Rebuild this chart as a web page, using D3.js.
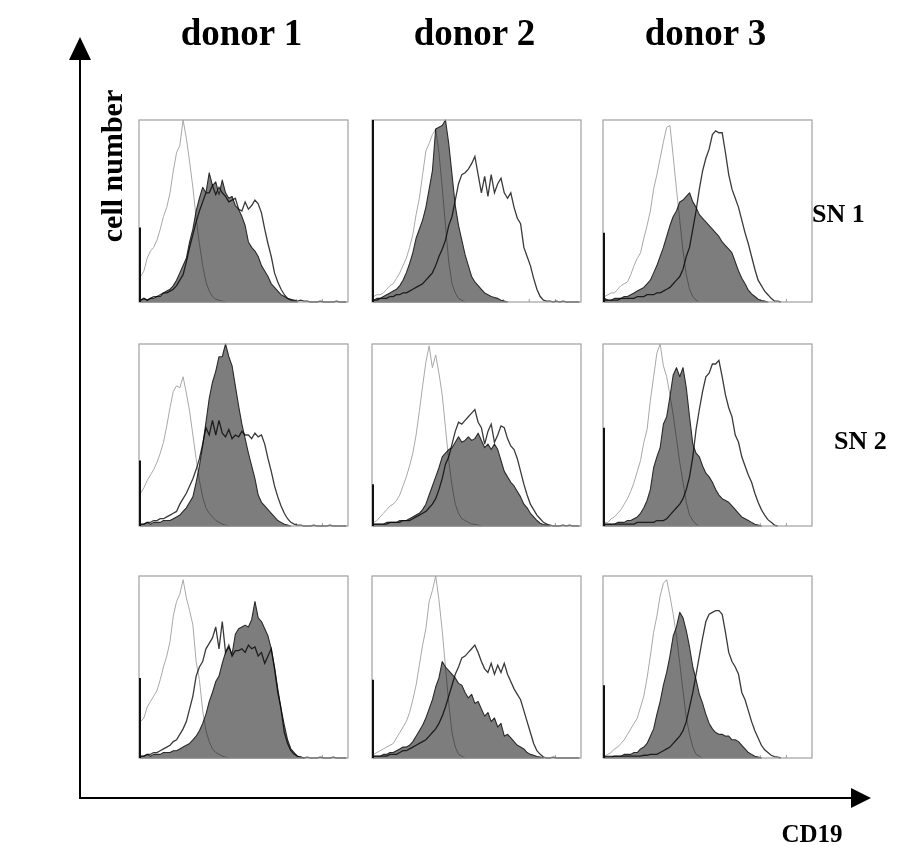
<!DOCTYPE html>
<html>
<head>
<meta charset="utf-8">
<script src="https://cdn.jsdelivr.net/npm/d3@7"></script>
<style>
body { margin: 0; background: #fff; }
svg text { font-family: "Liberation Serif", "Times New Roman", serif; font-weight: bold; fill: #000; }
</style>
</head>
<body>
<div id="chart"></div>
<script>
// column and row labels
var donors = ["donor 1", "donor 2", "donor 3"];
var supernatants = ["SN 1", "SN 2"];
var nBins = 64;

// isotype control (light grey line), panels row by row
var isotype = [
  [0.14,0.17,0.24,0.28,0.3,0.34,0.4,0.47,0.52,0.6,0.72,0.82,0.86,1.0,0.9,0.77,0.63,0.46,0.32,0.2,0.11,0.06,0.03,0.015,0.01,0.005,0],
  [0.03,0.04,0.04,0.05,0.07,0.09,0.1,0.13,0.16,0.2,0.24,0.3,0.37,0.48,0.57,0.7,0.83,0.87,0.92,0.95,0.82,0.63,0.42,0.22,0.1,0.05,0.02,0.01,0],
  [0.03,0.04,0.05,0.05,0.07,0.09,0.1,0.11,0.15,0.2,0.24,0.27,0.35,0.42,0.5,0.62,0.7,0.79,0.88,0.96,0.97,0.8,0.62,0.45,0.28,0.15,0.07,0.03,0.01,0],
  [0.18,0.21,0.25,0.28,0.31,0.35,0.4,0.46,0.55,0.65,0.74,0.77,0.76,0.82,0.73,0.63,0.5,0.37,0.25,0.16,0.1,0.07,0.05,0.03,0.02,0.01,0.005,0],
  [0.02,0.03,0.05,0.07,0.09,0.11,0.12,0.14,0.17,0.22,0.27,0.33,0.4,0.5,0.63,0.77,0.9,0.99,0.87,0.94,0.84,0.72,0.54,0.36,0.22,0.12,0.07,0.04,0.03,0.02,0.01,0.01,0.005,0],
  [0.02,0.02,0.04,0.05,0.07,0.09,0.12,0.15,0.19,0.24,0.3,0.36,0.46,0.53,0.69,0.82,0.95,1.0,0.88,0.82,0.72,0.61,0.48,0.35,0.24,0.13,0.06,0.03,0.01,0],
  [0.2,0.22,0.28,0.31,0.34,0.37,0.43,0.5,0.56,0.64,0.78,0.86,0.9,0.98,0.88,0.81,0.73,0.53,0.43,0.26,0.15,0.09,0.05,0.03,0.02,0.01,0.005,0],
  [0.02,0.03,0.04,0.05,0.06,0.07,0.08,0.11,0.14,0.17,0.2,0.25,0.32,0.4,0.51,0.62,0.71,0.86,0.92,1.0,0.87,0.7,0.5,0.3,0.14,0.06,0.02,0.01,0],
  [0.01,0.02,0.03,0.05,0.06,0.08,0.1,0.13,0.16,0.19,0.22,0.28,0.34,0.44,0.56,0.69,0.78,0.89,0.96,0.98,0.89,0.79,0.67,0.52,0.37,0.22,0.13,0.06,0.02,0.01,0]
];

// filled dark grey histogram
var filled = [
  [0.01,0.02,0.01,0.02,0.02,0.03,0.03,0.05,0.06,0.07,0.09,0.12,0.16,0.2,0.24,0.33,0.4,0.5,0.57,0.63,0.6,0.71,0.64,0.66,0.59,0.67,0.6,0.57,0.58,0.53,0.51,0.47,0.42,0.33,0.3,0.28,0.25,0.2,0.17,0.14,0.1,0.08,0.06,0.04,0.03,0.02,0.01,0.005,0],
  [0.01,0.02,0.02,0.03,0.04,0.05,0.06,0.07,0.09,0.12,0.16,0.21,0.27,0.35,0.4,0.45,0.52,0.62,0.72,0.95,0.96,0.97,1.0,0.87,0.7,0.53,0.42,0.34,0.26,0.2,0.14,0.11,0.09,0.07,0.05,0.04,0.03,0.025,0.02,0.01,0.005,0],
  [0.02,0.01,0.01,0.02,0.02,0.02,0.03,0.03,0.04,0.05,0.06,0.07,0.08,0.1,0.12,0.16,0.2,0.25,0.3,0.36,0.42,0.47,0.5,0.55,0.56,0.58,0.6,0.55,0.52,0.48,0.46,0.44,0.42,0.4,0.38,0.36,0.33,0.31,0.29,0.27,0.22,0.17,0.13,0.1,0.065,0.045,0.03,0.015,0.008,0.005,0],
  [0.01,0.01,0.02,0.01,0.02,0.02,0.02,0.03,0.03,0.03,0.04,0.05,0.06,0.08,0.1,0.13,0.16,0.24,0.33,0.44,0.57,0.7,0.79,0.85,0.93,0.93,1.0,0.93,0.88,0.77,0.66,0.56,0.48,0.4,0.33,0.26,0.17,0.13,0.11,0.09,0.07,0.05,0.03,0.02,0.01,0.005,0],
  [0.01,0.01,0.01,0.01,0.02,0.02,0.02,0.02,0.03,0.03,0.03,0.04,0.05,0.06,0.07,0.09,0.12,0.17,0.22,0.27,0.32,0.38,0.4,0.42,0.43,0.46,0.49,0.46,0.47,0.49,0.47,0.48,0.51,0.47,0.43,0.45,0.42,0.45,0.42,0.36,0.3,0.27,0.24,0.22,0.19,0.16,0.12,0.1,0.07,0.05,0.03,0.015,0.008,0.005,0],
  [0.01,0.01,0.01,0.01,0.02,0.02,0.02,0.03,0.03,0.04,0.05,0.07,0.1,0.14,0.2,0.32,0.38,0.43,0.56,0.6,0.71,0.83,0.87,0.82,0.87,0.76,0.6,0.45,0.4,0.38,0.33,0.29,0.27,0.24,0.2,0.17,0.15,0.14,0.13,0.11,0.09,0.07,0.05,0.04,0.03,0.02,0.01,0.005,0],
  [0.01,0.01,0.02,0.01,0.02,0.02,0.02,0.03,0.03,0.03,0.04,0.04,0.05,0.06,0.07,0.08,0.1,0.12,0.15,0.19,0.24,0.31,0.36,0.42,0.45,0.52,0.58,0.61,0.57,0.68,0.71,0.72,0.73,0.72,0.76,0.86,0.77,0.75,0.71,0.67,0.6,0.5,0.38,0.27,0.18,0.1,0.05,0.03,0.01,0.005,0],
  [0.01,0.01,0.01,0.02,0.02,0.03,0.03,0.04,0.05,0.06,0.06,0.07,0.09,0.12,0.15,0.18,0.22,0.27,0.32,0.39,0.44,0.53,0.5,0.48,0.46,0.44,0.41,0.4,0.36,0.33,0.35,0.3,0.31,0.27,0.23,0.25,0.2,0.22,0.17,0.19,0.12,0.13,0.11,0.09,0.07,0.06,0.05,0.03,0.02,0.015,0.008,0.005,0],
  [0.01,0.01,0.01,0.01,0.01,0.01,0.02,0.02,0.02,0.03,0.03,0.05,0.06,0.08,0.12,0.16,0.24,0.31,0.4,0.47,0.56,0.67,0.72,0.8,0.77,0.7,0.61,0.5,0.43,0.35,0.3,0.24,0.19,0.16,0.14,0.13,0.13,0.12,0.12,0.1,0.1,0.09,0.07,0.05,0.03,0.02,0.01,0.005,0]
];

// open dark outline histogram
var outline = [
  [0.01,0.02,0.01,0.02,0.03,0.03,0.04,0.05,0.05,0.06,0.07,0.09,0.12,0.15,0.22,0.3,0.37,0.44,0.5,0.55,0.6,0.6,0.64,0.59,0.63,0.6,0.58,0.55,0.56,0.57,0.51,0.5,0.55,0.51,0.53,0.56,0.54,0.49,0.4,0.32,0.25,0.16,0.11,0.07,0.04,0.02,0.015,0.01,0.005,0.01,0.005,0.005,0,0,0,0.005,0,0,0,0,0.005,0,0,0],
  [0.01,0.01,0.02,0.02,0.02,0.03,0.03,0.04,0.04,0.05,0.05,0.06,0.07,0.08,0.09,0.1,0.12,0.14,0.16,0.2,0.25,0.29,0.34,0.42,0.47,0.56,0.65,0.7,0.71,0.73,0.76,0.8,0.7,0.6,0.69,0.58,0.7,0.6,0.65,0.68,0.6,0.57,0.6,0.52,0.46,0.43,0.3,0.25,0.2,0.13,0.07,0.03,0.01,0.005,0.005,0,0.005,0,0.005,0,0,0,0,0],
  [0.01,0.01,0.01,0.01,0.01,0.02,0.02,0.02,0.02,0.02,0.03,0.03,0.03,0.04,0.04,0.04,0.05,0.05,0.06,0.07,0.08,0.1,0.12,0.14,0.18,0.25,0.3,0.4,0.5,0.62,0.72,0.79,0.84,0.92,0.94,0.93,0.93,0.82,0.7,0.62,0.57,0.52,0.45,0.38,0.32,0.25,0.18,0.12,0.09,0.06,0.04,0.02,0.005,0.005,0],
  [0.01,0.01,0.02,0.02,0.03,0.03,0.04,0.04,0.05,0.06,0.07,0.08,0.12,0.15,0.18,0.22,0.26,0.31,0.37,0.45,0.54,0.5,0.58,0.5,0.58,0.51,0.49,0.53,0.48,0.5,0.49,0.52,0.5,0.5,0.48,0.51,0.49,0.5,0.45,0.37,0.3,0.22,0.16,0.11,0.07,0.04,0.02,0.01,0.005,0.005,0,0,0,0.005,0,0,0,0,0.005,0,0,0,0,0],
  [0.01,0.01,0.01,0.01,0.01,0.02,0.02,0.02,0.02,0.03,0.03,0.03,0.04,0.05,0.06,0.07,0.08,0.1,0.12,0.15,0.2,0.26,0.34,0.38,0.45,0.52,0.57,0.56,0.58,0.6,0.62,0.64,0.57,0.54,0.45,0.52,0.56,0.46,0.5,0.55,0.54,0.48,0.44,0.42,0.37,0.3,0.23,0.17,0.12,0.09,0.06,0.04,0.02,0.01,0.005,0,0,0,0.005,0,0.005,0,0,0],
  [0.01,0.01,0.01,0.01,0.01,0.01,0.01,0.01,0.01,0.01,0.02,0.02,0.02,0.02,0.02,0.02,0.03,0.03,0.03,0.04,0.06,0.08,0.1,0.12,0.15,0.2,0.27,0.38,0.53,0.64,0.74,0.82,0.84,0.89,0.89,0.91,0.82,0.72,0.65,0.6,0.5,0.46,0.38,0.33,0.28,0.24,0.18,0.13,0.09,0.06,0.035,0.02,0.005,0],
  [0.01,0.01,0.02,0.02,0.03,0.03,0.04,0.05,0.06,0.07,0.09,0.1,0.13,0.16,0.2,0.27,0.34,0.45,0.5,0.53,0.6,0.63,0.66,0.72,0.6,0.75,0.58,0.62,0.56,0.59,0.59,0.6,0.58,0.62,0.6,0.61,0.56,0.58,0.52,0.56,0.6,0.49,0.36,0.27,0.14,0.08,0.04,0.02,0.01,0.005,0,0.005,0,0,0,0.005,0,0,0,0.005,0,0,0,0],
  [0.01,0.01,0.01,0.01,0.01,0.02,0.02,0.02,0.03,0.04,0.04,0.05,0.06,0.07,0.08,0.09,0.1,0.12,0.14,0.16,0.19,0.23,0.28,0.34,0.4,0.46,0.5,0.55,0.56,0.58,0.6,0.62,0.58,0.53,0.49,0.47,0.52,0.46,0.51,0.47,0.52,0.46,0.42,0.38,0.35,0.32,0.26,0.2,0.14,0.08,0.04,0.02,0.005,0,0,0.005,0,0,0,0,0,0,0,0],
  [0.005,0.005,0.005,0.01,0.01,0.01,0.01,0.01,0.01,0.01,0.01,0.01,0.015,0.015,0.02,0.02,0.02,0.03,0.04,0.05,0.06,0.08,0.1,0.12,0.15,0.2,0.28,0.36,0.46,0.56,0.66,0.75,0.79,0.8,0.81,0.81,0.79,0.69,0.58,0.53,0.5,0.46,0.36,0.32,0.26,0.2,0.15,0.11,0.07,0.045,0.03,0.015,0.008,0.005,0]
];

// height of the off-scale spike in channel 0
var spikes = [0.41, 1.0, 0.38, 0.36, 0.23, 0.54, 0.44, 0.43, 0.4];

var width = 897, height = 846;
var panelW = 209, panelH = 182;
var colX = [139, 372, 603];
var rowY = [120, 344, 576];

var svg = d3.select("#chart").append("svg")
  .attr("width", width)
  .attr("height", height)
  .style("background", "#fff");

var x = d3.scaleLinear().domain([0, nBins]).range([0, panelW]);
var y = d3.scaleLinear().domain([0, 1]).range([panelH, 0]);

var line = d3.line()
  .x(function(d, i) { return x(i + 0.5); })
  .y(function(d) { return y(d); });

var area = d3.area()
  .x(function(d, i) { return x(i + 0.5); })
  .y0(panelH)
  .y1(function(d) { return y(d); });

for (var p = 0; p < 9; p++) {
  var row = Math.floor(p / 3), col = p % 3;
  var g = svg.append("g")
    .attr("transform", "translate(" + colX[col] + "," + rowY[row] + ")");

  // small ticks along the bottom edge
  g.append("g")
    .attr("transform", "translate(0," + panelH + ")")
    .call(d3.axisBottom(x).tickValues(d3.range(8, nBins, 8)).tickSize(-3).tickFormat(""))
    .call(function(a) { a.select(".domain").remove(); })
    .selectAll("line").attr("stroke", "#999");

  g.append("path")
    .datum(filled[p])
    .attr("d", area)
    .attr("fill", "#7d7d7d")
    .attr("stroke", "#2b2b2b")
    .attr("stroke-width", 1.1)
    .attr("stroke-linejoin", "round");

  g.append("path")
    .datum(outline[p])
    .attr("d", line)
    .attr("fill", "none")
    .attr("stroke", "#3a3a3a")
    .attr("stroke-width", 1.3)
    .style("mix-blend-mode", "multiply");

  g.append("path")
    .datum(isotype[p])
    .attr("d", line)
    .attr("fill", "none")
    .attr("stroke", "#a8a8a8")
    .attr("stroke-width", 1)
    .style("mix-blend-mode", "multiply");

  // frame
  g.append("rect")
    .attr("x", 0).attr("y", 0)
    .attr("width", panelW).attr("height", panelH)
    .attr("fill", "none")
    .attr("stroke", "#a0a0a0")
    .attr("stroke-width", 1.2);

  // spike at the left edge
  g.append("line")
    .attr("x1", 1).attr("x2", 1)
    .attr("y1", panelH).attr("y2", y(spikes[p]))
    .attr("stroke", "#111")
    .attr("stroke-width", 2);
}

// axis arrows
svg.append("line")
  .attr("x1", 80).attr("y1", 58).attr("x2", 80).attr("y2", 798)
  .attr("stroke", "#000").attr("stroke-width", 2);
svg.append("path")
  .attr("d", "M80,37L69,60L91,60Z")
  .attr("fill", "#000");
svg.append("line")
  .attr("x1", 79).attr("y1", 798).attr("x2", 853).attr("y2", 798)
  .attr("stroke", "#000").attr("stroke-width", 2);
svg.append("path")
  .attr("d", "M871,798L851,788L851,808Z")
  .attr("fill", "#000");

// labels
svg.selectAll(".donor")
  .data(donors)
  .enter().append("text")
  .attr("class", "donor")
  .attr("x", function(d, i) { return colX[i] + panelW / 2 - 2; })
  .attr("y", 45)
  .attr("text-anchor", "middle")
  .style("font-size", "37px")
  .text(function(d) { return d; });

svg.append("text")
  .attr("x", 812).attr("y", 222)
  .style("font-size", "26px")
  .text(supernatants[0]);
svg.append("text")
  .attr("x", 834).attr("y", 449)
  .style("font-size", "26px")
  .text(supernatants[1]);

svg.append("text")
  .attr("transform", "translate(122,166) rotate(-90)")
  .attr("text-anchor", "middle")
  .style("font-size", "30px")
  .text("cell number");

svg.append("text")
  .attr("x", 812).attr("y", 842)
  .attr("text-anchor", "middle")
  .style("font-size", "25px")
  .text("CD19");
</script>
</body>
</html>
